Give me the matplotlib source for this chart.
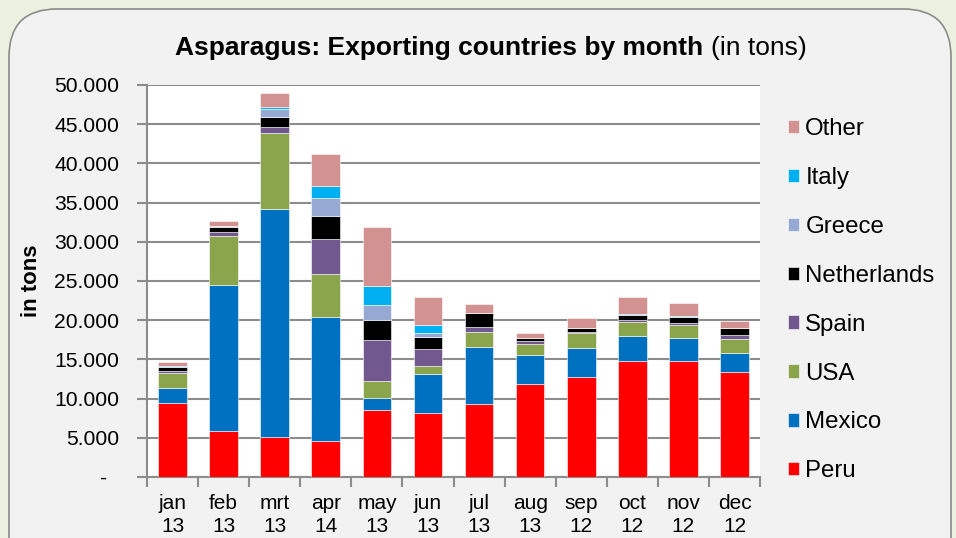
import matplotlib
matplotlib.use("Agg")
import numpy as np
from matplotlib import pyplot as plt
from matplotlib.patches import FancyBboxPatch

plt.rcParams['font.family'] = ['Liberation Sans', 'DejaVu Sans']

months = ["jan\n13", "feb\n13", "mrt\n13", "apr\n14", "may\n13", "jun\n13",
          "jul\n13", "aug\n13", "sep\n12", "oct\n12", "nov\n12", "dec\n12"]

# tons per country
peru        = [9500, 5900, 5150, 4550, 8600, 8180, 9370, 11800, 12800, 14740, 14780, 13330]
mexico      = [1800, 18600, 29000, 15900, 1500, 4980, 7200, 3790, 3680, 3280, 2900, 2510]
usa         = [2000, 6300, 9700, 5450, 2130, 1020, 1870, 1400, 1830, 1700, 1660, 1700]
spain       = [200, 400, 850, 4430, 5240, 2170, 680, 380, 170, 250, 300, 550]
netherlands = [500, 700, 1280, 2900, 2600, 1530, 1750, 300, 470, 680, 770, 940]
greece      = [50, 100, 1020, 2380, 1870, 510, 50, 0, 60, 0, 0, 0]
italy       = [50, 0, 170, 1530, 2390, 1060, 0, 0, 40, 170, 170, 0]
other       = [600, 650, 1750, 4000, 7620, 3540, 1100, 640, 1260, 2090, 1580, 900]

series = [("Peru", peru, "#ff0000"),
          ("Mexico", mexico, "#0070c0"),
          ("USA", usa, "#8aa54c"),
          ("Spain", spain, "#71588f"),
          ("Netherlands", netherlands, "#000000"),
          ("Greece", greece, "#95a9d2"),
          ("Italy", italy, "#00b0f0"),
          ("Other", other, "#d39292")]

fig = plt.figure(figsize=(9.56, 5.38), dpi=100)
fig.patch.set_facecolor("#ebf1de")

# rounded grey panel behind the chart
panel = FancyBboxPatch((9 / 956, -0.1), 942 / 956, 1.1 - 9 / 538,
                       boxstyle="round,pad=0,rounding_size=0.05",
                       transform=fig.transFigure, facecolor="#f2f2f2",
                       edgecolor="#8c8c8c", linewidth=1.2, mutation_aspect=956 / 538,
                       zorder=-10)
fig.patches.append(panel)

ax = fig.add_axes([147 / 956, 61 / 538, 613 / 956, 392 / 538])
ax.set_facecolor("white")

x = np.arange(len(months))
bottom = np.zeros(len(months))
handles = []
for name, vals, col in series:
    vals = np.array(vals, dtype=float)
    b = ax.bar(x, vals, 0.56, bottom=bottom, color=col, edgecolor="#ffffff",
               linewidth=0.4, label=name, zorder=3)
    handles.append(b)
    bottom += vals

ax.set_xlim(-0.5, 11.5)
ax.set_ylim(0, 50000)
ax.set_yticks(np.arange(0, 50001, 5000))
ax.set_yticklabels(["-  "] + [f"{v:,}".replace(",", ".") for v in range(5000, 50001, 5000)])
ax.yaxis.grid(True, color="#8c8c8c", linewidth=1.5, zorder=0)

ax.set_xticks(x)
ax.set_xticklabels(months, linespacing=1.22)
ax.set_xticks(np.arange(-0.5, 12, 1), minor=True)
ax.tick_params(axis="x", which="major", length=0, pad=12.5, labelsize=15)
ax.tick_params(axis="x", which="minor", length=7, width=1.5, color="#8c8c8c", direction="out")
ax.tick_params(axis="y", length=7, width=1.5, color="#8c8c8c", pad=13, labelsize=15.2)

for s in ["top", "right"]:
    ax.spines[s].set_visible(False)
for s in ["left", "bottom"]:
    ax.spines[s].set_color("#8c8c8c")
    ax.spines[s].set_linewidth(1.5)

ax.set_ylabel("in tons", fontsize=16, fontweight="bold")
ax.yaxis.set_label_coords(-0.171, 0.5)

fig.text(703 / 956, 1 - 48 / 538, "Asparagus: Exporting countries by month",
         fontsize=19, fontweight="bold", ha="right", va="center")
fig.text(711 / 956, 1 - 48 / 538, "(in tons)", fontsize=19, ha="left", va="center")

leg = fig.legend(handles[::-1], [s[0] for s in series][::-1],
                 loc="upper left", bbox_to_anchor=(776 / 956, 1 - 106 / 538),
                 frameon=False, fontsize=17.3, handlelength=0.47, handleheight=0.47,
                 handletextpad=0.25, labelspacing=1.12, borderpad=0)

fig.savefig("out.png", dpi=100, facecolor=fig.get_facecolor())
